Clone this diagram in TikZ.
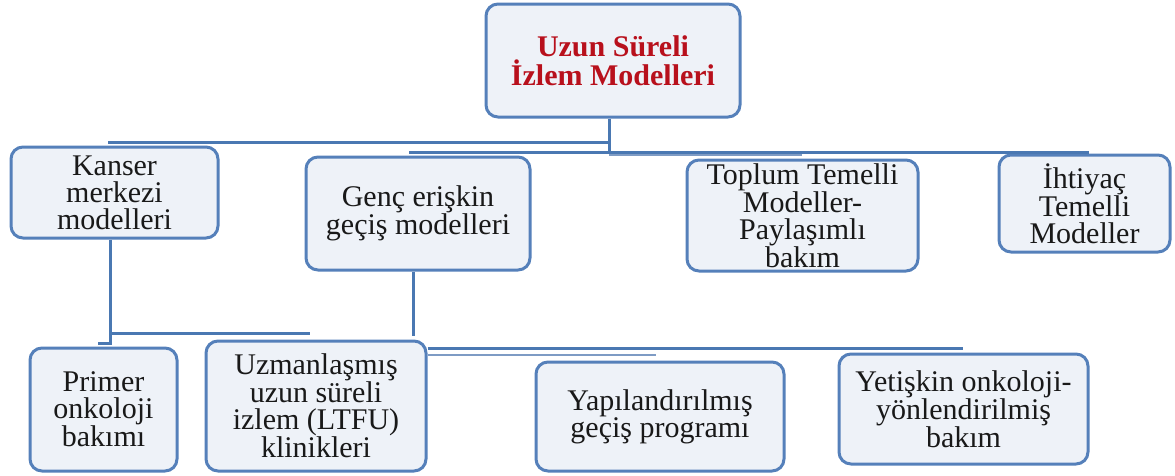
\documentclass[tikz,border=0pt]{standalone}
\usepackage{fontspec}
\setmainfont{Liberation Serif}
\definecolor{boxline}{HTML}{5580BA}
\definecolor{boxfill}{HTML}{EEF2F8}
\definecolor{connline}{HTML}{4A78B2}
\definecolor{connlight}{HTML}{7E9BC4}
\definecolor{titlered}{HTML}{B8101C}
\tikzset{
  box/.style={draw=boxline, fill=boxfill, line width=3pt, rounded corners=12pt,
    inner sep=0pt, align=center, text=black!90,
    font=\fontsize{30}{27}\selectfont},
  titlebox/.style={box, text=titlered, font=\fontsize{30}{29.5}\selectfont\bfseries},
  conn/.style={draw=connline, line width=3pt},
  connthin/.style={draw=connlight, line width=2pt}
}
\newcommand{\bx}[7]{% name, x1, y1, x2, y2, style, text
  \node[#6, minimum width={#4-#2}, minimum height={#5-#3}] (#1) at ({(#2+#4)/2},{(#3+#5)/2}) {#7};}
\begin{document}
\begin{tikzpicture}[x=1pt,y=-1pt]
\useasboundingbox (0,0) rectangle (1175,475);
% boxes
\bx{top}{486}{4}{740}{117}{titlebox}{Uzun Süreli\\İzlem Modelleri}
\bx{kanser}{11}{147}{218}{238}{box}{Kanser\\merkezi\\modelleri}
\bx{genc}{306}{157}{530}{270}{box}{Genç erişkin\\geçiş modelleri}
\bx{toplum}{687}{160}{918}{271}{box}{Toplum Temelli\\Modeller-\\Paylaşımlı\\bakım}
\bx{ihtiyac}{999}{155}{1170}{252}{box}{İhtiyaç\\Temelli\\Modeller}
\bx{primer}{30}{348}{177}{471}{box}{Primer\\onkoloji\\bakımı}
\bx{uzman}{206}{341}{426}{471}{box}{Uzmanlaşmış\\uzun süreli\\izlem (LTFU)\\klinikleri}
\bx{yap}{536}{362}{784}{471}{box}{Yapılandırılmış\\geçiş programı}
\bx{yet}{839}{354}{1088}{464}{box}{Yetişkin onkoloji-\\yönlendirilmiş\\bakım}
% junction coordinates
\coordinate (j) at (609,152);
\coordinate (h1L) at (108,142);
\coordinate (h2L) at (409,152);
\coordinate (h2R) at (1089,152);
\coordinate (h3R) at (802,155);
\coordinate (v1) at (110,343);
\coordinate (h4R) at (310,333);
\coordinate (v2) at (413,336);
\coordinate (h5R) at (963,348);
\coordinate (h6R) at (656,355);
% top connectors
\draw[conn] (top.south -| j) -- (j);
\draw[conn] (h1L) -- (h1L -| j);
\draw[conn] (h2L) -- (h2R);
\draw[connthin] (j |- h3R) -- (h3R);
% lower connectors
\draw[conn] (kanser.south -| v1) -- (v1) -- ++(-12,0);
\draw[conn] (v1 |- h4R) -- (h4R);
\draw[conn] (genc.south -| v2) -- (v2);
\draw[conn] (uzman.east |- h5R) -- (h5R);
\draw[connthin] (uzman.east |- h6R) -- (h6R);
\end{tikzpicture}
\end{document}
